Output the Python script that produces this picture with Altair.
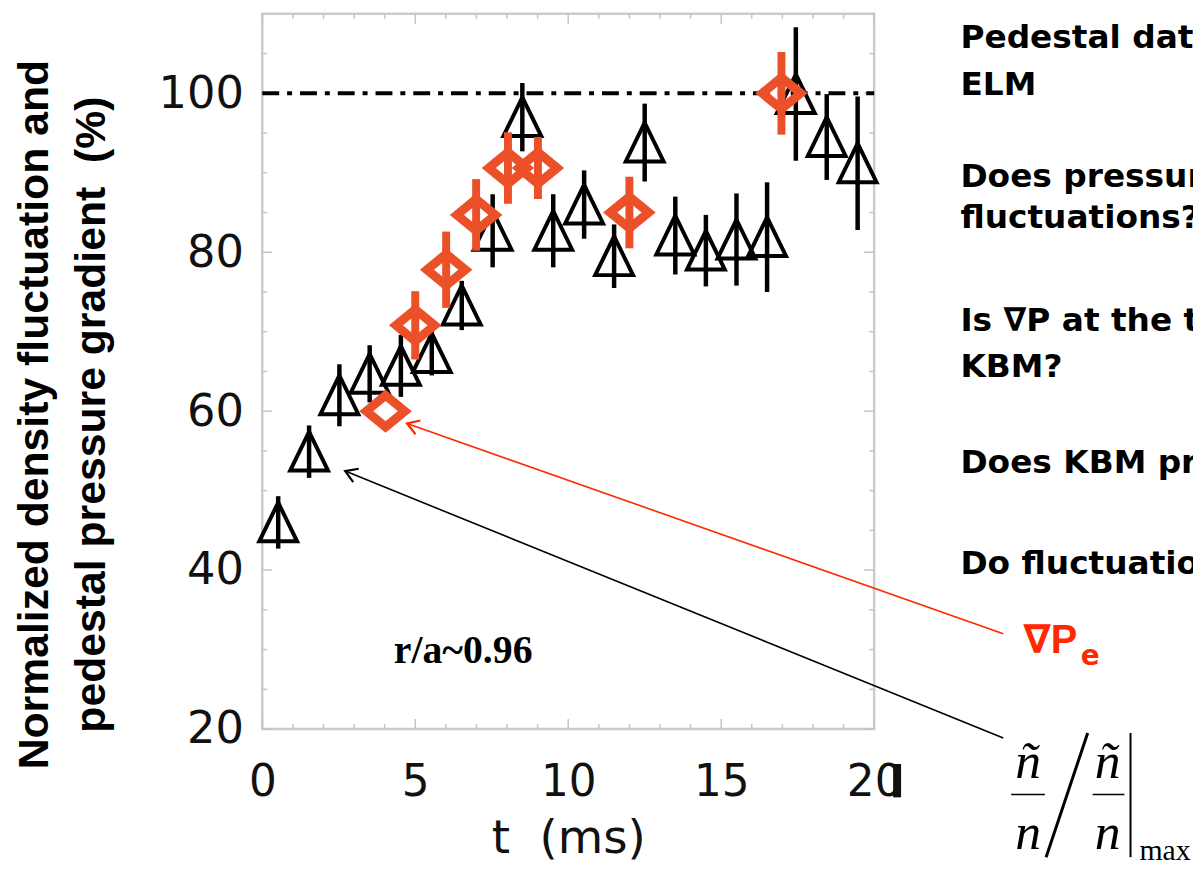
import math
import altair as alt
import pandas as pd

# ---------------- data ----------------
tri_t = [0.52, 1.53, 2.52, 3.51, 4.53, 5.54, 6.52, 7.53, 8.5, 9.51,
         10.52, 11.5, 12.5, 13.5, 14.5, 15.5, 16.5, 17.44, 18.45, 19.46]
tri_y = [46.0, 54.9, 62.0, 64.7, 65.7, 67.3, 73.3, 82.7, 97.0, 82.7,
         86.0, 79.5, 93.8, 82.1, 80.2, 81.6, 81.9, 99.9, 94.5, 91.2]
tri_err = [3.3, 3.3, 3.9, 3.6, 3.9, 2.8, 3.1, 4.6, 4.3, 4.6,
           4.3, 4.0, 4.9, 4.9, 4.5, 5.8, 6.9, 8.4, 5.4, 8.4]

dia_t = [4.03, 5.0, 6.01, 6.99, 8.03, 9.01, 12.0, 16.97]
dia_y = [60.0, 70.8, 77.8, 84.7, 90.6, 90.6, 85.0, 100.0]
dia_err = [0.0, 4.3, 4.8, 4.5, 4.5, 3.9, 4.5, 5.2]

x_labels = [0, 5, 10, 15, 20]
y_labels = [20, 40, 60, 80, 100]
x_tick_vals = list(range(0, 21))
y_tick_vals = list(range(20, 111, 5))

ref_level = [100]

right_lines = ["Pedestal dat", "ELM", "Does pressur", "fluctuations?",
               "Is \u2207P at the th", "KBM?", "Does KBM pr", "Do fluctuatio"]
right_y = [105.75, 99.75, 88.25, 83.0, 70.125, 64.25, 52.25, 39.5]
right_x = 22.82

radius_label = "r/a~0.96"
y_title = ["Normalized density fluctuation and", "pedestal pressure gradient\u00a0\u00a0(%)"]
x_title = "t\u00a0\u00a0(ms)"

# annotation arrows (tip -> tail), in data units
arrow_tip_x = [4.73, 2.71]
arrow_tip_y = [58.45, 52.46]
arrow_end_x = [24.22, 24.22]
arrow_end_y = [32.0, 18.875]
arrow_color = ["#FF2800", "#000000"]

RED = "#EB5028"
BRIGHT_RED = "#FF2800"
PX_X = 30.8   # pixels per ms
PX_Y = 8.0    # pixels per %

# ---------------- scales / axes ----------------
xs = alt.Scale(domain=[0, 20], nice=False, zero=False)
ys = alt.Scale(domain=[20, 110], nice=False, zero=False)

xaxis = alt.Axis(values=x_labels, ticks=False, tickSize=0, domain=False, grid=False,
                 labelFont="DejaVu Sans", labelFontSize=44, labelColor="#111111",
                 labelPadding=32, labelFlush=False, labelOverlap=False,
                 title=x_title, titleFont="DejaVu Sans", titleFontSize=47,
                 titleFontWeight="normal", titleColor="#111111",
                 titleX=308, titleY=124, titleAlign="center", titleBaseline="alphabetic")
yaxis = alt.Axis(values=y_labels, ticks=False, tickSize=0, domain=False, grid=False,
                 labelFont="DejaVu Sans", labelFontSize=45, labelColor="#111111",
                 labelPadding=19, labelOverlap=False,
                 title=y_title, titleFont="Liberation Sans", titleFontSize=43,
                 titleFontWeight="bold", titleColor="#000000", titleAngle=270,
                 titleX=-216, titleY=403, titleAlign="center",
                 titleBaseline="alphabetic", titleLineHeight=57)


def X(f):
    return alt.X(f, type="quantitative", scale=xs, axis=xaxis)


def Y(f):
    return alt.Y(f, type="quantitative", scale=ys, axis=yaxis)


# ---------------- tables ----------------
tri = pd.DataFrame({"t": tri_t, "y": tri_y,
                    "lo": [a - b for a, b in zip(tri_y, tri_err)],
                    "hi": [a + b for a, b in zip(tri_y, tri_err)]})
dia = pd.DataFrame({"t": dia_t, "y": dia_y,
                    "lo": [a - b for a, b in zip(dia_y, dia_err)],
                    "hi": [a + b for a, b in zip(dia_y, dia_err)]})

rows = []
for v in x_tick_vals:
    L = (10 if v % 5 == 0 else 5) / PX_Y
    rows.append({"x": v, "x2": v, "y": 20, "y2": 20 + L})
    rows.append({"x": v, "x2": v, "y": 110, "y2": 110 - L})
for v in y_tick_vals:
    L = (10 if v % 20 == 0 else 5) / PX_X
    rows.append({"x": 0, "x2": L, "y": v, "y2": v})
    rows.append({"x": 20, "x2": 20 - L, "y": v, "y2": v})
ticks = pd.DataFrame(rows)

ref = pd.DataFrame({"x": [0], "x2": [20], "y": ref_level})

arrows = pd.DataFrame({"x": arrow_tip_x, "y": arrow_tip_y, "x2": arrow_end_x,
                       "y2": arrow_end_y, "c": arrow_color})
arrows["ang"] = [math.degrees(math.atan2((ty - ey) * PX_Y, (ex - tx) * PX_X))
                 for tx, ty, ex, ey in zip(arrow_tip_x, arrow_tip_y, arrow_end_x, arrow_end_y)]

right_df = pd.DataFrame({"x": [right_x] * len(right_lines), "y": right_y, "text": right_lines})

# ---------------- layers ----------------
tick_layer = alt.Chart(ticks).mark_rule(color="#c4c4c4", strokeWidth=1.5).encode(
    x=X("x"), x2="x2", y=Y("y"), y2="y2")

ref_layer = alt.Chart(ref).mark_rule(color="black", strokeWidth=4,
                                     strokeDash=[17, 8, 5, 8]).encode(
    x=X("x"), x2="x2", y=Y("y"))

tri_layer = alt.Chart(tri).mark_point(shape="M0,-1.05L-1,1L1,1Z", filled=False, size=1450,
                                      strokeWidth=4, color="black", opacity=1).encode(
    x=X("t"), y=Y("y"))
tri_err_layer = alt.Chart(tri).mark_rule(color="black", strokeWidth=4.5).encode(
    x=X("t"), y=Y("lo"), y2="hi")

dia_layer = alt.Chart(dia).mark_point(shape="M0,-0.82L1,0L0,0.82L-1,0Z", filled=False,
                                      size=1500, strokeWidth=9, color=RED, opacity=1).encode(
    x=X("t"), y=Y("y"))
dia_err_layer = alt.Chart(dia[dia["hi"] > dia["lo"]]).mark_rule(color=RED, strokeWidth=8).encode(
    x=X("t"), y=Y("lo"), y2="hi")

arrow_line = alt.Chart(arrows).mark_rule(strokeWidth=1.6).encode(
    x=X("x"), y=Y("y"), x2="x2", y2="y2", color=alt.Color("c:N", scale=None))
arrow_head = alt.Chart(arrows).mark_point(shape="M1.2,-0.75L0,0L1.2,0.75", filled=False,
                                          size=380, strokeWidth=2.2, opacity=1).encode(
    x=X("x"), y=Y("y"), angle=alt.Angle("ang:Q", scale=None),
    color=alt.Color("c:N", scale=None))

right_text = alt.Chart(right_df).mark_text(font="DejaVu Sans", fontWeight="bold", fontSize=33,
                                           align="left", baseline="alphabetic",
                                           color="black").encode(
    x=X("x"), y=Y("y"), text="text:N")

radius_text = alt.Chart(pd.DataFrame({"x": [4.3], "y": [28.25], "text": [radius_label]})).mark_text(
    font="Liberation Serif", fontWeight="bold", fontSize=40, align="left",
    baseline="alphabetic", color="black").encode(x=X("x"), y=Y("y"), text="text:N")

gp_text = alt.Chart(pd.DataFrame({"x": [24.87], "y": [29.6], "text": ["\u2207P"]})).mark_text(
    font="Liberation Sans, DejaVu Sans", fontWeight="bold", fontSize=40, align="left",
    baseline="alphabetic", color=BRIGHT_RED).encode(x=X("x"), y=Y("y"), text="text:N")
gp_sub = alt.Chart(pd.DataFrame({"x": [26.75], "y": [28.1], "text": ["e"]})).mark_text(
    font="DejaVu Sans", fontWeight="bold", fontSize=28, align="left",
    baseline="alphabetic", color=BRIGHT_RED).encode(x=X("x"), y=Y("y"), text="text:N")

# formula  (ñ/n) / (ñ/n)|max
frac_df = pd.DataFrame({"x": [25.03, 25.03, 27.63, 27.63], "y": [13.875, 4.875, 13.875, 4.875],
                        "text": ["\u00f1", "n", "\u00f1", "n"]})
frac_text = alt.Chart(frac_df).mark_text(font="Liberation Serif", fontStyle="italic", fontSize=52,
                                         align="center", baseline="alphabetic",
                                         color="black").encode(x=X("x"), y=Y("y"), text="text:N")
bars_df = pd.DataFrame({"x": [24.48, 27.14], "x2": [25.58, 28.18], "y": [11.75, 11.75]})
bars = alt.Chart(bars_df).mark_rule(color="black", strokeWidth=1.5).encode(
    x=X("x"), x2="x2", y=Y("y"))
slash_df = pd.DataFrame({"x": [26.98], "y": [19.5], "x2": [25.62], "y2": [3.875]})
slash = alt.Chart(slash_df).mark_rule(color="black", strokeWidth=3).encode(
    x=X("x"), y=Y("y"), x2="x2", y2="y2")
vbar_df = pd.DataFrame({"x": [28.38], "y": [19.5], "y2": [3.875]})
vbar = alt.Chart(vbar_df).mark_rule(color="black", strokeWidth=2).encode(
    x=X("x"), y=Y("y"), y2="y2")
max_text = alt.Chart(pd.DataFrame({"x": [28.67], "y": [3.5], "text": ["max"]})).mark_text(
    font="Liberation Serif", fontSize=30, align="left", baseline="alphabetic",
    color="black").encode(x=X("x"), y=Y("y"), text="text:N")

# dark smudge that covers part of the last x label in the picture
smudge_df = pd.DataFrame({"x": [20.75], "y": [15.6], "y2": [11.4]})
smudge = alt.Chart(smudge_df).mark_rule(color="#111111", strokeWidth=8).encode(
    x=X("x"), y=Y("y"), y2="y2")

chart = alt.layer(
    tick_layer, ref_layer, tri_layer, tri_err_layer, dia_layer, dia_err_layer,
    arrow_line, arrow_head, right_text, radius_text, gp_text, gp_sub,
    frac_text, bars, slash, vbar, max_text, smudge
).properties(
    width=616, height=720,
    autosize=alt.AutoSizeParams(type="none"),
    padding={"left": 256, "top": 3, "right": 321, "bottom": 133},
    background="white",
).configure_view(stroke="#cccccc", strokeWidth=2.5)

chart.save("out.html", embed_options={"renderer": "svg", "actions": False})
